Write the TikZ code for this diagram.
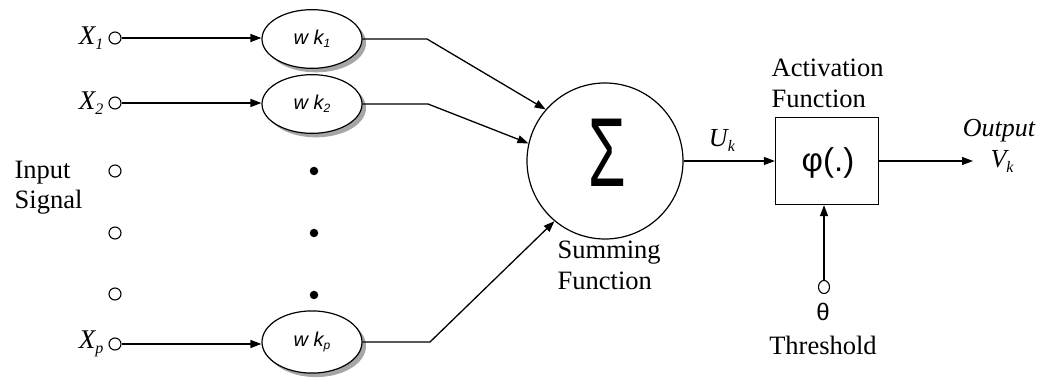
\documentclass[tikz,border=0pt]{standalone}
\usepackage{fontspec}
\usepackage{graphicx}
\setmainfont{Liberation Serif}
\newfontfamily\arialf{Liberation Sans}
\usetikzlibrary{arrows.meta,shadows,shapes.geometric}
\newcommand{\mysub}[1]{\raisebox{-5pt}{\fontsize{16}{16}\selectfont\itshape #1}}
\begin{document}
\begin{tikzpicture}[x=1pt,y=-1pt,line width=1.3pt,
  arr/.style={-{Triangle[length=11pt,width=8pt]}},
  inp/.style={circle,draw,line width=1.1pt,minimum size=12pt,inner sep=0pt},
  wnode/.style={ellipse,draw,line width=1.2pt,minimum width=100pt,minimum height=50pt,
    inner xsep=3pt,inner ysep=12pt,fill=white,
    drop shadow={shadow xshift=4pt,shadow yshift=-4pt,fill=gray!70,opacity=1}},
  dotn/.style={circle,fill,inner sep=0pt,minimum size=8.5pt},
  lbl/.style={font=\fontsize{26.5}{31}\selectfont,inner sep=0pt,align=left},
  xlbl/.style={font=\fontsize{27}{27}\selectfont\itshape,inner sep=0pt,anchor=east},
  wlbl/.style={font=\arialf\fontsize{20}{20}\selectfont}]
\useasboundingbox (0,0) rectangle (1037,379);
\fill[white] (0,0) rectangle (1037,379);

% inputs
\node[inp] (in1) at (115,38) {};
\node[inp] (in2) at (115,103) {};
\node[inp] (in3) at (115,171) {};
\node[inp] (in4) at (115,233) {};
\node[inp] (in5) at (115,294) {};
\node[inp] (inp) at (115,344) {};

\node[xlbl] (lx1) at (104,38) {X\mysub{1}};
\node[xlbl] (lx2) at (104,103) {X\mysub{2}};
\node[xlbl] (lxp) at (104,344) {X\mysub{p}};
\node[lbl,anchor=north west] (insig) at (14,160) {Input\\Signal};

% weights
\node[wnode,wlbl] (w1) at (312,39) {\itshape w k\raisebox{-3pt}{\fontsize{12}{12}\selectfont 1}};
\node[wnode,wlbl] (w2) at (312,104) {\itshape w k\raisebox{-3pt}{\fontsize{12}{12}\selectfont 2}};
\node[wnode,wlbl] (wp) at (312,342) {\itshape w k\raisebox{-3pt}{\fontsize{12}{12}\selectfont p}};
\node[dotn] (d1) at (314,171) {};
\node[dotn] (d2) at (314,233) {};
\node[dotn] (d3) at (314,295) {};

\draw[arr] (in1) -- (in1 -| w1.west);
\draw[arr] (in2) -- (in2 -| w2.west);
\draw[arr] (inp) -- (inp -| wp.west);

% summing
\node[circle,draw,line width=1.2pt,minimum size=156pt,inner sep=0pt] (sum) at (605,161) {};
\node[inner sep=0pt,font=\arialf\fontsize{98}{98}\selectfont] (sig) at (607,153) {\scalebox{0.62}[1]{Σ}};
\node[lbl,anchor=north west] (sumlbl) at (557,240) {Summing\\Function};

\coordinate (b1) at (427,39);
\coordinate (b2) at (428,104);
\coordinate (bp) at (430,342);
\draw[arr] (w1) -- (b1) -- (sum.139);
\draw[arr] (w2) -- (b2) -- (sum.167);
\draw[arr] (wp) -- (bp) -- (sum.230);

% activation
\node[draw,line width=1.3pt,minimum width=103pt,minimum height=87pt,inner sep=0pt] (act) at (827,161) {};
\node[inner sep=0pt,font=\arialf\fontsize{33}{33}\selectfont] (phi) at (828,163) {φ(.)};
\node[lbl,anchor=south west] (actlbl) at (771,108) {Activation\\Function};
\draw[arr] (sum) -- (act) node[pos=0.42,above=9pt,inner sep=0pt,font=\fontsize{26}{26}\selectfont\itshape] (uk) {U\mysub{k}};

\coordinate (out) at (973,161);
\draw[arr] (act) -- (out);
\node[inner sep=0pt,font=\fontsize{26}{26}\selectfont\itshape] (outlbl) at (999,131) {Output};
\node[inner sep=0pt,font=\fontsize{26}{26}\selectfont\itshape] (vk) at (1002,161) {V\mysub{k}};

% threshold
\node[inp,minimum width=11pt,minimum height=13pt,ellipse] (th) at (824,287) {};
\draw[arr] (th) -- (th |- act.south);
\node[inner sep=0pt,font=\arialf\fontsize{24}{24}\selectfont] (theta) at (823,312) {θ};
\node[lbl] (thlbl) at (823,345) {Threshold};
\end{tikzpicture}
\end{document}
